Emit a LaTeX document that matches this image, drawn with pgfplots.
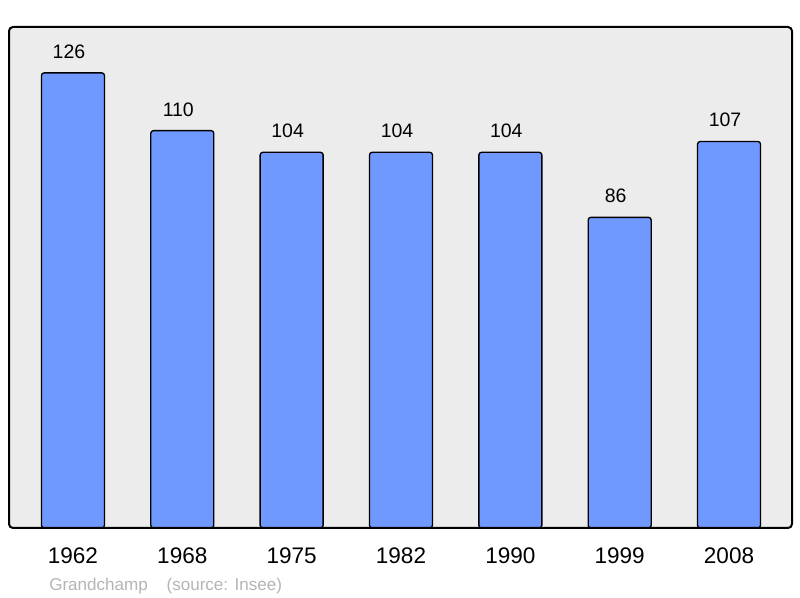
\documentclass[border=0pt]{standalone}
\usepackage{pgfplots}
\pgfplotsset{compat=1.18}
\usepackage{fontspec}
\setmainfont{Liberation Sans}
\definecolor{barblue}{HTML}{7099FF}
\definecolor{bggray}{HTML}{ECECEC}
\definecolor{capgray}{HTML}{B4B4B4}
\begin{document}
\begin{tikzpicture}
\useasboundingbox (-6.75pt,-52.5pt) rectangle (593.25pt,396pt);
\begin{axis}[
  at={(0,0)}, anchor=south west,
  width=587.25pt, height=375.75pt, scale only axis,
  xmin=-0.585, xmax=6.576, ymin=0, ymax=138.7,
  axis line style={draw=none},
  axis background/.style={fill=bggray},
  xtick={0,1,2,3,4,5,6},
  xticklabels={1962,1968,1975,1982,1990,1999,2008},
  major tick length=0pt,
  ytick=\empty,
  xticklabel style={anchor=center, yshift=-21pt, font=\fontsize{16.9}{18}\selectfont},
  /pgf/number format/assume math mode=true,
  clip=false,
]
\addplot[ybar, bar width=47.25pt, fill=barblue, draw=black, line width=1pt, rounded corners=2pt,
  nodes near coords, nodes near coords align={center},
  every node near coord/.append style={anchor=center, xshift=-3pt, yshift=16pt, font=\fontsize{14.6}{16}\selectfont, text=black}]
  coordinates {(0,126) (1,110) (2,104) (3,104) (4,104) (5,86) (6,107)};
\draw[line width=1.5pt, rounded corners=3pt] (rel axis cs:0,0) rectangle (rel axis cs:1,1);
\node[anchor=west, text=capgray, font=\fontsize{12.8}{14}\selectfont, inner sep=0pt] at ([xshift=30pt,yshift=-43.5pt]rel axis cs:0,0) {Grandchamp\hspace{14pt}(source: Insee)};
\end{axis}
\end{tikzpicture}
\end{document}
